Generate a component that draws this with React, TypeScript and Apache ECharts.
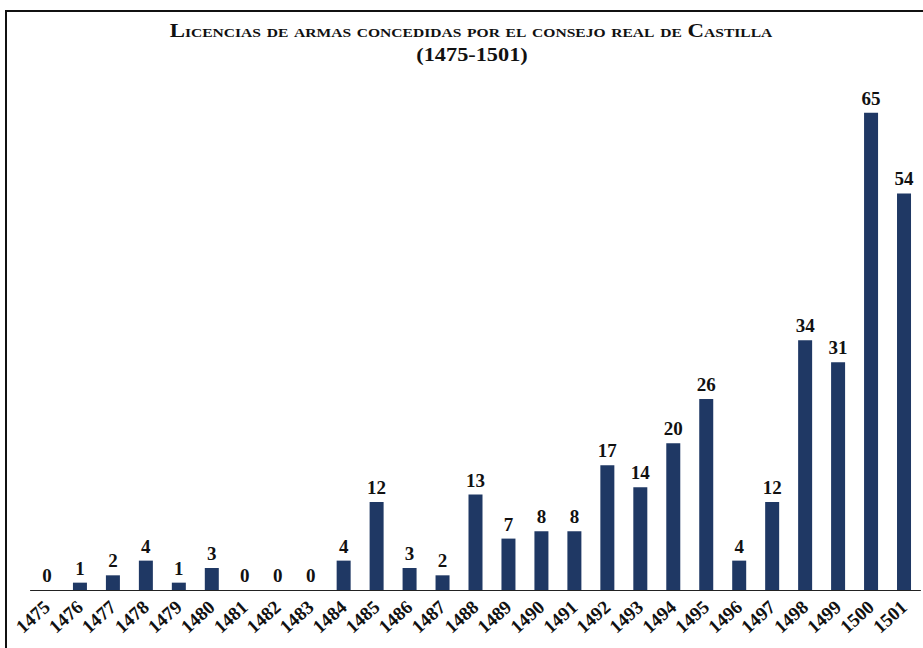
import React, { useEffect, useRef } from "react";
import * as echarts from "echarts";

const years = ["1475","1476","1477","1478","1479","1480","1481","1482","1483","1484","1485","1486","1487","1488","1489","1490","1491","1492","1493","1494","1495","1496","1497","1498","1499","1500","1501"];
const licences = [0,1,2,4,1,3,0,0,0,4,12,3,2,13,7,8,8,17,14,20,26,4,12,34,31,65,54];
const titleLine1 = "Licencias de armas concedidas por el consejo real de Castilla";
const titleLine2 = "(1475-1501)";

export default function App() {
  const ref = useRef<HTMLDivElement>(null);
  useEffect(() => {
    if (!ref.current) return;
    const chart = echarts.init(ref.current, undefined, { renderer: "svg" });
    const serif = "'Liberation Serif', 'Times New Roman', serif";
    chart.setOption({
      animation: false,
      backgroundColor: "transparent",
      graphic: [
        {
          type: "text",
          x: 471,
          y: 31,
          scaleX: 1.27,
          style: {
            text: titleLine1,
            font: "bold small-caps 18px 'Liberation Serif', serif",
            fill: "#111",
            align: "center",
            verticalAlign: "middle",
          },
        },
        {
          type: "text",
          x: 472,
          y: 55,
          scaleX: 1.24,
          style: {
            text: titleLine2,
            font: "bold 18px 'Liberation Serif', serif",
            fill: "#111",
            align: "center",
            verticalAlign: "middle",
          },
        },
      ],
      grid: { left: 30.5, right: 2.5, top: 76, bottom: 58, containLabel: false },
      xAxis: {
        type: "category",
        data: years,
        axisLine: { show: true, lineStyle: { color: "#222", width: 1 } },
        axisTick: { show: false },
        axisLabel: {
          rotate: 42,
          interval: 0,
          margin: 14,
          fontFamily: serif,
          fontWeight: "bold",
          fontSize: 19,
          color: "#111",
        },
      },
      yAxis: { type: "value", min: 0, max: 70, show: false, splitLine: { show: false } },
      series: [
        {
          type: "bar",
          data: licences,
          barWidth: 14,
          itemStyle: { color: "#1f3864" },
          label: {
            show: true,
            position: "top",
            distance: 5,
            fontFamily: serif,
            fontWeight: "bold",
            fontSize: 19,
            color: "#111",
          },
        },
      ],
    });
    return () => chart.dispose();
  }, []);
  return (
    <div style={{ position: "fixed", left: 0, top: 0, width: 923, height: 648, overflow: "hidden", background: "#fff" }}>
      <div style={{ position: "absolute", left: 5, top: 10, width: 960, height: 720, border: "2px solid #111", boxShadow: "1px 1px 1px #888" }} />
      <div ref={ref} style={{ position: "absolute", left: 0, top: 0, width: 923, height: 648 }} />
    </div>
  );
}
